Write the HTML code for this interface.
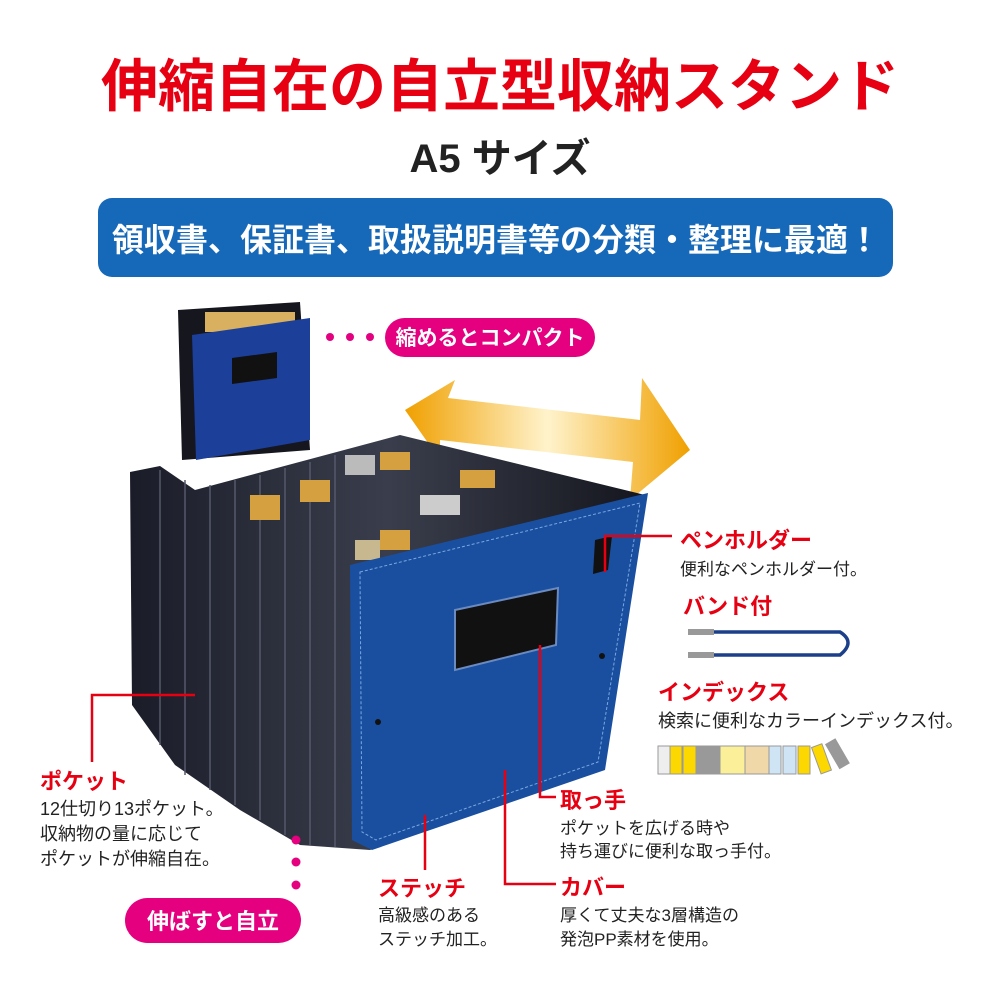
<!DOCTYPE html>
<html><head><meta charset="utf-8"><style>
html,body{margin:0;padding:0;background:#fff}
svg{display:block}
text{font-family:"Liberation Sans","Noto Sans CJK JP",sans-serif}
</style></head><body>
<svg width="1000" height="1000" viewBox="0 0 1000 1000" xmlns="http://www.w3.org/2000/svg">
<defs>
<linearGradient id="arr" x1="0" y1="0" x2="1" y2="0">
<stop offset="0" stop-color="#f0a000"/><stop offset="0.5" stop-color="#fff3cc"/><stop offset="1" stop-color="#f0a000"/></linearGradient>
<linearGradient id="blk" x1="0" y1="0" x2="1" y2="0">
<stop offset="0" stop-color="#1a1c28"/><stop offset="0.5" stop-color="#3a3e4c"/><stop offset="1" stop-color="#15161e"/></linearGradient>
</defs>
<text x="500" y="106" text-anchor="middle" font-size="57" font-weight="bold" fill="#e60012">伸縮自在の自立型収納スタンド</text>
<text x="500" y="172" text-anchor="middle" font-size="40" font-weight="bold" fill="#222">A5 サイズ</text>
<rect x="98" y="198" width="795" height="79" rx="14" fill="#1668b8"/>
<text x="496" y="251" text-anchor="middle" font-size="32" font-weight="bold" fill="#fff">領収書、保証書、取扱説明書等の分類・整理に最適！</text>

<!-- small compact file -->
<polygon points="178,310 300,302 310,450 182,460" fill="#15161e"/>
<rect x="205" y="312" width="90" height="20" fill="#d8b060"/>
<polygon points="192,335 310,318 310,440 196,460" fill="#1c3f9a"/>
<polygon points="232,358 277,352 277,378 232,384" fill="#111"/>
<circle cx="330" cy="337" r="4" fill="#e4007f"/><circle cx="350" cy="337" r="4" fill="#e4007f"/><circle cx="370" cy="337" r="4" fill="#e4007f"/>
<rect x="385" y="318" width="210" height="39" rx="19.5" fill="#e4007f"/>
<text x="490" y="345" text-anchor="middle" font-size="21" font-weight="bold" fill="#fff">縮めるとコンパクト</text>

<!-- arrow -->
<polygon points="405,410 455,380 448,398 640,420 642,378 690,450 630,500 633,462 440,440 440,460" fill="url(#arr)"/>

<!-- main file black accordion -->
<polygon points="130,472 160,466 195,490 400,435 645,495 600,770 370,850 300,845 240,810 175,765 132,705" fill="url(#blk)"/>
<g stroke="#55596a" stroke-width="1.5">
<line x1="160" y1="470" x2="160" y2="745"/><line x1="185" y1="480" x2="185" y2="775"/><line x1="210" y1="485" x2="210" y2="790"/>
<line x1="235" y1="480" x2="235" y2="805"/><line x1="260" y1="475" x2="260" y2="820"/><line x1="285" y1="468" x2="285" y2="835"/>
<line x1="310" y1="462" x2="310" y2="845"/><line x1="335" y1="455" x2="335" y2="847"/>
</g>
<rect x="250" y="495" width="30" height="25" fill="#d4a040"/><rect x="300" y="480" width="30" height="22" fill="#d4a040"/>
<rect x="345" y="455" width="30" height="20" fill="#bbb"/><rect x="380" y="452" width="30" height="18" fill="#d4a040"/>
<rect x="380" y="530" width="30" height="20" fill="#d4a040"/><rect x="420" y="495" width="40" height="20" fill="#ccc"/>
<rect x="460" y="470" width="35" height="18" fill="#d4a040"/><rect x="355" y="540" width="25" height="20" fill="#c8b890"/>
<!-- blue cover -->
<polygon points="350,565 648,493 605,770 372,850 352,840" fill="#1a4fa0"/>
<polygon points="360,572 640,503 598,762 376,840 362,832" fill="none" stroke="#7aa8e0" stroke-width="1" stroke-dasharray="3,2"/>
<polygon points="595,540 612,536 608,570 593,574" fill="#111"/>
<polygon points="455,610 558,588 556,645 455,670" fill="#111" stroke="#6a8ac0" stroke-width="2"/>
<circle cx="378" cy="722" r="3" fill="#111"/><circle cx="602" cy="656" r="3" fill="#111"/>

<!-- connectors -->
<g stroke="#e60012" stroke-width="2.5" fill="none">
<polyline points="605,572 605,536 672,536"/>
<polyline points="195,695 92,695 92,762"/>
<polyline points="425,815 425,870"/>
<polyline points="540,645 540,797 556,797"/>
<polyline points="505,770 505,884 556,884"/>
</g>

<!-- right labels -->
<text x="680" y="548" font-size="22" font-weight="bold" fill="#e60012">ペンホルダー</text>
<text x="680" y="575" font-size="17" fill="#222">便利なペンホルダー付。</text>
<text x="683" y="614" font-size="22" font-weight="bold" fill="#e60012">バンド付</text>
<path d="M712,632 L840,632 Q856,642 840,655 L712,655" stroke="#1c3f8a" stroke-width="3.5" fill="none"/>
<rect x="688" y="629" width="26" height="6" fill="#999"/><rect x="688" y="652" width="26" height="6" fill="#999"/>
<text x="658" y="700" font-size="22" font-weight="bold" fill="#e60012">インデックス</text>
<text x="658" y="727" font-size="18" fill="#222">検索に便利なカラーインデックス付。</text>
<g stroke="#999" stroke-width="1">
<rect x="658" y="746" width="12" height="28" fill="#eee"/><rect x="670" y="746" width="12" height="28" fill="#fcd800"/>
<rect x="683" y="746" width="13" height="28" fill="#fcd800"/><rect x="696" y="746" width="24" height="28" fill="#999"/>
<rect x="720" y="746" width="25" height="28" fill="#fbef9a"/><rect x="745" y="746" width="24" height="28" fill="#f0d8a8"/>
<rect x="769" y="746" width="12" height="28" fill="#cfe4f4"/><rect x="783" y="746" width="13" height="28" fill="#cfe4f4"/>
<rect x="798" y="746" width="12" height="28" fill="#fcd800"/>
<rect x="816" y="745" width="11" height="28" fill="#fcd800" transform="rotate(-20 821 759)"/>
<rect x="832" y="740" width="11" height="28" fill="#999" transform="rotate(-30 837 754)"/>
</g>

<!-- left -->
<text x="40" y="789" font-size="22" font-weight="bold" fill="#e60012">ポケット</text>
<text x="40" y="815" font-size="18" fill="#222">12仕切り13ポケット。</text>
<text x="40" y="840" font-size="18" fill="#222">収納物の量に応じて</text>
<text x="40" y="865" font-size="18" fill="#222">ポケットが伸縮自在。</text>
<circle cx="296" cy="840" r="4.5" fill="#e4007f"/><circle cx="296" cy="862" r="4.5" fill="#e4007f"/><circle cx="296" cy="885" r="4.5" fill="#e4007f"/>
<rect x="125" y="898" width="176" height="45" rx="22.5" fill="#e4007f"/>
<text x="213" y="929" text-anchor="middle" font-size="22" font-weight="bold" fill="#fff">伸ばすと自立</text>

<!-- bottom -->
<text x="378" y="896" font-size="22" font-weight="bold" fill="#e60012">ステッチ</text>
<text x="378" y="921" font-size="17" fill="#222">高級感のある</text>
<text x="378" y="945" font-size="17" fill="#222">ステッチ加工。</text>
<text x="560" y="808" font-size="22" font-weight="bold" fill="#e60012">取っ手</text>
<text x="560" y="834" font-size="17" fill="#222">ポケットを広げる時や</text>
<text x="560" y="857" font-size="17" fill="#222">持ち運びに便利な取っ手付。</text>
<text x="560" y="895" font-size="22" font-weight="bold" fill="#e60012">カバー</text>
<text x="560" y="921" font-size="17" fill="#222">厚くて丈夫な3層構造の</text>
<text x="560" y="945" font-size="17" fill="#222">発泡PP素材を使用。</text>
</svg>
</body></html>
